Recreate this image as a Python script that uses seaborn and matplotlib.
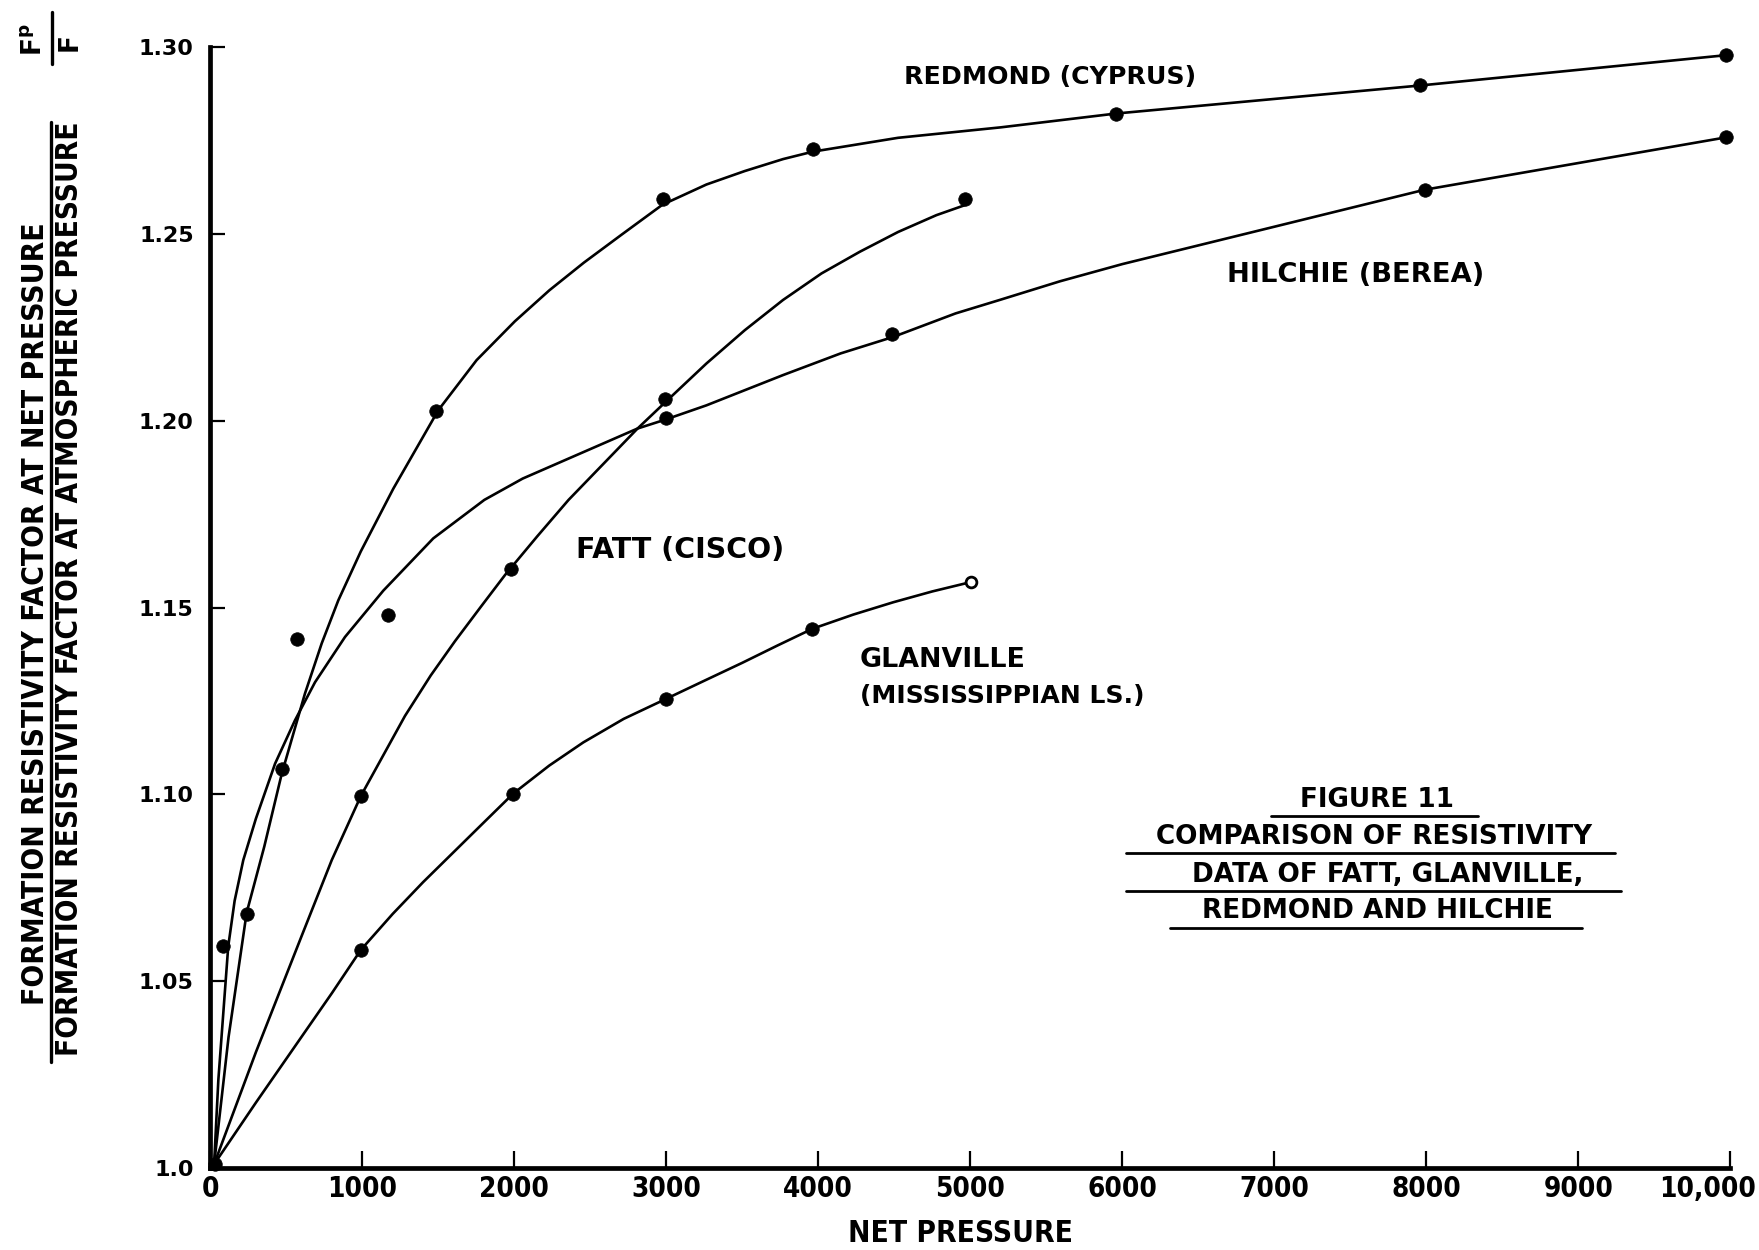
import matplotlib
matplotlib.use("Agg")
import matplotlib.pyplot as plt
from matplotlib import font_manager
from matplotlib.lines import Line2D
from matplotlib.transforms import ScaledTranslation
import pandas as pd
import seaborn as sns

# ---------------- data ----------------
# hand-drawn curve traces (net pressure, F_p / F)
redmond_curve_p = [25, 120, 239, 355, 470, 623, 733, 842, 990, 1204, 1500, 1752, 2004,
                   2231, 2458, 2710, 2975, 3264, 3516, 3768, 3965, 4525, 5201, 5960,
                   7960, 9970]
redmond_curve_r = [1.001, 1.035, 1.0683, 1.0860, 1.1055, 1.127, 1.1404, 1.1519, 1.165,
                   1.1818, 1.2028, 1.2162, 1.2266, 1.2349, 1.2423, 1.2499, 1.2578, 1.2632,
                   1.2668, 1.2700, 1.2720, 1.2757, 1.2785, 1.2822, 1.2897, 1.2978]

hilchie_curve_p = [25, 53, 118, 160, 217, 300, 426, 557, 689, 886, 1138, 1467, 1803, 2055,
                   2382, 2811, 2995, 3264, 3768, 4147, 4492, 4903, 5201, 5590, 6000,
                   7000, 7989, 9970]
hilchie_curve_r = [1.001, 1.0236, 1.0593, 1.0715, 1.0824, 1.0935, 1.1082, 1.1198, 1.1300,
                   1.1421, 1.1545, 1.1685, 1.1788, 1.1845, 1.1903, 1.1979, 1.2003, 1.2041,
                   1.2122, 1.2180, 1.2224, 1.2287, 1.2324, 1.2373, 1.2419, 1.2519,
                   1.2618, 1.2758]

fatt_curve_p = [25, 300, 600, 799, 991, 1281, 1450, 1610, 1780, 1939, 2150, 2357, 2811,
                2995, 3264, 3516, 3768, 4021, 4273, 4525, 4777, 4966]
fatt_curve_r = [1.001, 1.031, 1.062, 1.0824, 1.0996, 1.1210, 1.1318, 1.1410, 1.1502,
                1.1587, 1.1690, 1.1788, 1.1979, 1.2050, 1.2153, 1.2242, 1.2323, 1.2394,
                1.2452, 1.2505, 1.2550, 1.2577]

glanville_curve_p = [25, 300, 590, 800, 991, 1200, 1400, 1600, 1800, 1993, 2230, 2454,
                     2720, 2996, 3250, 3500, 3730, 3961, 4230, 4493, 4750, 5003]
glanville_curve_r = [1.001, 1.0175, 1.0345, 1.0468, 1.0584, 1.0680, 1.0765, 1.0845,
                     1.0925, 1.1002, 1.1077, 1.1139, 1.1202, 1.1255, 1.1304, 1.1352,
                     1.1398, 1.1443, 1.1481, 1.1514, 1.1543, 1.1568]

# plotted data points
origin_p = [30]
origin_r = [1.001]
redmond_pts_p = [239, 470, 1485, 2975, 3967, 5960, 7960, 9970]
redmond_pts_r = [1.0681, 1.1069, 1.2027, 1.2592, 1.2726, 1.2822, 1.2897, 1.2978]
hilchie_pts_p = [86, 568, 1167, 2998, 4487, 7989, 9970]
hilchie_pts_r = [1.0593, 1.1415, 1.1481, 1.2008, 1.2232, 1.2618, 1.2758]
fatt_pts_p = [991, 1978, 2991, 4965]
fatt_pts_r = [1.0996, 1.1604, 1.2059, 1.2592]
glanville_pts_p = [991, 1993, 2996, 3961]
glanville_pts_r = [1.0584, 1.1002, 1.1255, 1.1443]
glanville_open_p = [5003]
glanville_open_r = [1.1568]

xtick_vals = [0, 1000, 2000, 3000, 4000, 5000, 6000, 7000, 8000, 9000, 10000]
xtick_labels = ["0", "1000", "2000", "3000", "4000", "5000", "6000", "7000", "8000",
                "9000", "10,000"]
ytick_vals = [1.0, 1.05, 1.10, 1.15, 1.20, 1.25, 1.30]
ytick_labels = ["1.0", "1.05", "1.10", "1.15", "1.20", "1.25", "1.30"]

series_names = ["REDMOND", "HILCHIE", "FATT", "GLANVILLE"]
x_title = "NET PRESSURE"
y_num = "FORMATION RESISTIVITY FACTOR AT NET PRESSURE"
y_den = "FORMATION RESISTIVITY FACTOR AT ATMOSPHERIC PRESSURE"
caption_lines = ["FIGURE 11", "COMPARISON OF RESISTIVITY",
                 "DATA OF FATT, GLANVILLE,", "REDMOND AND HILCHIE"]
series_labels = ["REDMOND (CYPRUS)", "HILCHIE (BEREA)", "FATT (CISCO)",
                 "GLANVILLE", "(MISSISSIPPIAN LS.)"]

# ---------------- tables ----------------
curve_df = pd.concat([
    pd.DataFrame({"pressure": p, "ratio": r, "series": n})
    for n, p, r in zip(series_names,
                       [redmond_curve_p, hilchie_curve_p, fatt_curve_p, glanville_curve_p],
                       [redmond_curve_r, hilchie_curve_r, fatt_curve_r, glanville_curve_r])
], ignore_index=True)
pts_df = pd.concat([
    pd.DataFrame({"pressure": p, "ratio": r})
    for p, r in [(origin_p, origin_r), (redmond_pts_p, redmond_pts_r),
                 (hilchie_pts_p, hilchie_pts_r), (fatt_pts_p, fatt_pts_r),
                 (glanville_pts_p, glanville_pts_r)]
], ignore_index=True)
open_df = pd.DataFrame({"pressure": glanville_open_p, "ratio": glanville_open_r})

# ---------------- style ----------------
W, H = 1759, 1250
sns.set_theme(style="white")
avail = {f.name for f in font_manager.fontManager.ttflist}
NARROW = "Liberation Sans Narrow" if "Liberation Sans Narrow" in avail else "DejaVu Sans"
plt.rcParams["font.family"] = ["DejaVu Sans"]
plt.rcParams["text.color"] = "black"
plt.rcParams["axes.edgecolor"] = "black"


def fx(X):
    return X / W


def fy(Y):
    return 1 - Y / H


fig = plt.figure(figsize=(W / 100, H / 100), dpi=100)
fig.patch.set_facecolor("white")
ax = fig.add_axes([fx(210.3), fy(1168), fx(1730.3) - fx(210.3), fy(47) - fy(1168)])
ax.set_facecolor("white")

sns.lineplot(data=curve_df, x="pressure", y="ratio", hue="series",
             palette={n: "black" for n in series_names}, estimator=None, sort=False,
             linewidth=1.9, legend=False, ax=ax)
sns.scatterplot(data=pts_df, x="pressure", y="ratio", color="black", s=95,
                edgecolor="black", linewidth=0.5, legend=False, ax=ax,
                clip_on=False, zorder=4)
sns.scatterplot(data=open_df, x="pressure", y="ratio", color="white", s=60,
                edgecolor="black", linewidth=2.0, legend=False, ax=ax,
                clip_on=False, zorder=5)

ax.set_xlim(0, 10000)
ax.set_ylim(1.0, 1.30)
ax.set_xlabel("")
ax.set_ylabel("")
sns.despine(ax=ax)
for s in ("left", "bottom"):
    ax.spines[s].set_linewidth(3.4)
    ax.spines[s].set_color("black")

ax.set_xticks(xtick_vals)
ax.set_xticklabels(xtick_labels, fontfamily=NARROW, fontweight="bold", fontsize=20,
                   fontstretch="condensed")
ax.set_yticks(ytick_vals)
ax.set_yticklabels(ytick_labels, fontweight="bold", fontsize=16)
ax.tick_params(axis="x", direction="in", length=12, width=1.6, pad=5, bottom=True,
               colors="black")
ax.tick_params(axis="y", direction="in", length=11, width=1.6, pad=12, left=True,
               colors="black")
# the last x label sits a little left of its tick, as in the reference
last = ax.get_xticklabels()[-1]
last.set_transform(last.get_transform() + ScaledTranslation(-23 / 100, 0,
                                                             fig.dpi_scale_trans))

fig.canvas.draw()
renderer = fig.canvas.get_renderer()


def fit(t, target, vertical=False):
    bb = t.get_window_extent(renderer)
    w = bb.height if vertical else bb.width
    t.set_fontsize(t.get_fontsize() * target / w)
    return t


# x title
fit(fig.text(fx(961), fy(1233), x_title, ha="center", va="center",
             fontfamily=NARROW, fontweight="bold", fontsize=24,
             fontstretch="condensed"), 225)

# y title as a fraction
fit(fig.text(fx(36), fy(614), y_num, rotation=90, ha="center", va="center",
             fontfamily=NARROW, fontweight="bold", fontsize=22,
             fontstretch="condensed"), 780, vertical=True)
fit(fig.text(fx(70), fy(589), y_den, rotation=90, ha="center", va="center",
             fontfamily=NARROW, fontweight="bold", fontsize=22,
             fontstretch="condensed"), 931, vertical=True)
fig.add_artist(Line2D([fx(51), fx(51)], [fy(122), fy(1062)], color="black", lw=2.4,
                      transform=fig.transFigure))
fig.text(fx(34), fy(40), r"$\mathbf{F}^{\mathbf{p}}$", rotation=90, ha="center",
         va="center", fontsize=19)
fig.text(fx(72), fy(45), r"$\mathbf{F}$", rotation=90, ha="center", va="center",
         fontsize=19)
fig.add_artist(Line2D([fx(52), fx(52)], [fy(12), fy(64)], color="black", lw=2.4,
                      transform=fig.transFigure))

# series labels (left edge, centre y, width in px)
label_layout = [(904, 77, 292), (1227, 275, 257), (576, 550, 208), (860, 660, 166),
                (860, 696, 285)]
for txt, (X, Y, w) in zip(series_labels, label_layout):
    fit(fig.text(fx(X), fy(Y), txt, ha="left", va="center", fontweight="bold",
                 fontsize=18), w)

# caption with underlines: one common size, fitted on the widest line
cap_layout = [(1377, 800, 815.6, 1271, 1478),
              (1374, 837, 852.6, 1126, 1615),
              (1388, 875, 890.7, 1126, 1621),
              (1377, 911, 927.7, 1170, 1582)]
probe = fit(fig.text(0.5, 0.5, caption_lines[1], fontweight="bold", fontsize=19), 437)
cap_size = probe.get_fontsize()
probe.remove()
for txt, (X, Y, uy, u0, u1) in zip(caption_lines, cap_layout):
    fig.text(fx(X), fy(Y), txt, ha="center", va="center", fontweight="bold",
             fontsize=cap_size)
    fig.add_artist(Line2D([fx(u0), fx(u1)], [fy(uy), fy(uy)], color="black", lw=2.0,
                          transform=fig.transFigure))

fig.savefig("out.png", dpi=100, facecolor="white")
